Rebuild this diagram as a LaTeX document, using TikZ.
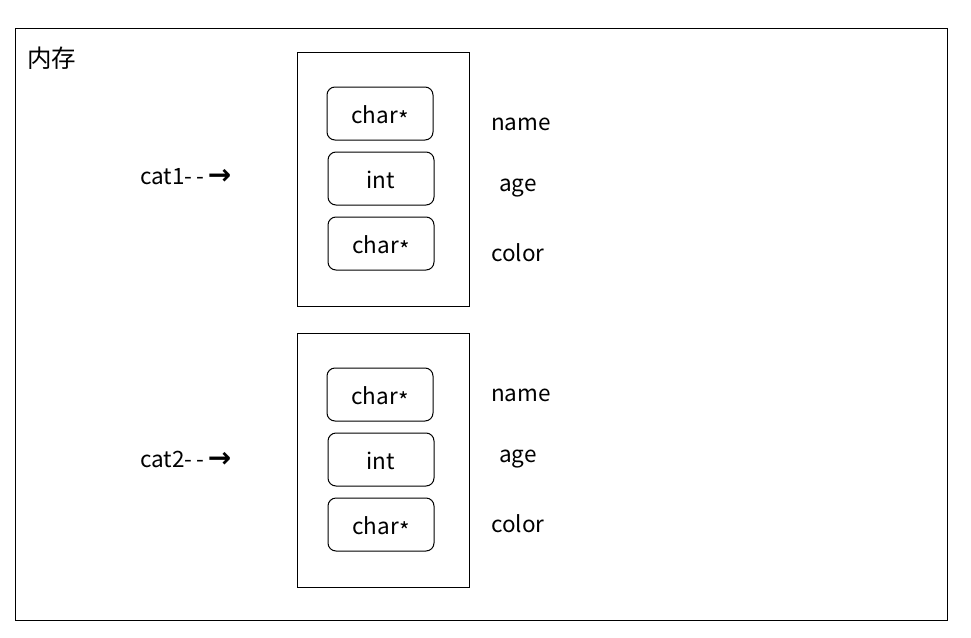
\documentclass[tikz,border=0pt]{standalone}
\usepackage{fontspec}
\setmainfont{Noto Sans CJK SC}
\newfontfamily\arrowfont{DejaVu Sans}
\usepackage{tikz}

\tikzset{
  membox/.style={draw, line width=1pt, minimum width=172pt, minimum height=254pt, inner sep=0pt},
  fieldbox/.style={draw, line width=1pt, rounded corners=8pt, minimum width=106pt, minimum height=53pt, inner sep=0pt, text height=22pt, text depth=2pt},
  fieldlabel/.style={inner sep=0pt, anchor=west}
}
\newcommand{\ptrstar}{\raisebox{-0.2em}{*}}
\newcommand{\ptrarrow}{{-}\hspace{3.5pt}{-}\hspace{4pt}{\arrowfont\bfseries\fontsize{28}{28}\selectfont →}}

\begin{document}
\begin{tikzpicture}[x=1pt,y=1pt,yscale=-1,xscale=1,font=\fontsize{22.5}{27}\selectfont]
\useasboundingbox (0,0) rectangle (971,637);

%Shape: Rectangle [memory frame]
\draw [line width=1pt] (15,28) rectangle (947,620);
% Text Node
\node [anchor=west, inner sep=0pt, font=\fontsize{24.5}{28}\selectfont] (memtitle) at (27,58) {内存};

%Shape: Rectangle [cat1]
\node [membox] (catA) at (383,179) {};
\node [fieldbox] (catAname) at (380,113.5) {char\ptrstar};
\node [fieldbox] (catAage) at (381,178.5) {int};
\node [fieldbox] (catAcolor) at (381,243.5) {char\ptrstar};

%Shape: Rectangle [cat2]
\node [membox] (catB) at (383,460) {};
\node [fieldbox] (catBname) at (380,394.5) {char\ptrstar};
\node [fieldbox] (catBage) at (381,459.5) {int};
\node [fieldbox] (catBcolor) at (381,524.5) {char\ptrstar};

% Text Node
\node [fieldlabel] (catAnameL) at (491,124) {name};
\node [fieldlabel] (catAageL) at (499,188) {age};
\node [fieldlabel] (catAcolorL) at (491,253) {color};
% Text Node
\node [fieldlabel] (catBnameL) at (491,395) {name};
\node [fieldlabel] (catBageL) at (499,459) {age};
\node [fieldlabel] (catBcolorL) at (491,524) {color};

% Text Node
\node [fieldlabel] (catAptr) at (140,177) {cat1\ptrarrow};
\node [fieldlabel] (catBptr) at (140,459) {cat2\ptrarrow};

\end{tikzpicture}
\end{document}
